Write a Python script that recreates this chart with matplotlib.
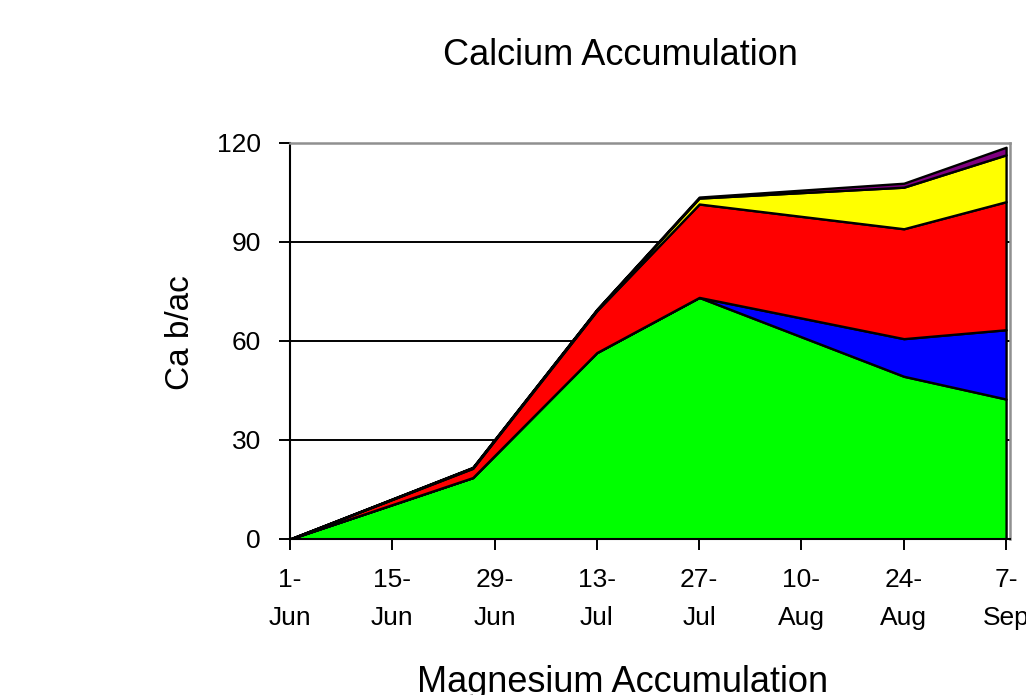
import matplotlib
matplotlib.use('Agg')
import matplotlib.pyplot as plt
import matplotlib.dates as mdates
import pandas as pd

plt.rcParams['font.family'] = ['Liberation Sans', 'DejaVu Sans']

# sample dates and stacked Ca accumulation (lb/ac), bottom to top
dates = pd.to_datetime(['2003-06-01', '2003-06-26', '2003-07-13',
                        '2003-07-27', '2003-08-24', '2003-09-07'])
green = [0, 18.6, 56.5, 73.2, 49.3, 42.4]
blue = [0, 0, 0, 0, 11.4, 21.0]
red = [0, 2.8, 12.7, 28.3, 33.3, 38.8]
yellow = [0, 0.2, 0.3, 1.8, 12.6, 14.2]
purple = [0, 0.1, 0.1, 0.3, 1.2, 2.3]

tick_dates = pd.to_datetime(['2003-06-01', '2003-06-15', '2003-06-29', '2003-07-13',
                             '2003-07-27', '2003-08-10', '2003-08-24', '2003-09-07'])
tick_labels = ['1-\nJun', '15-\nJun', '29-\nJun', '13-\nJul',
               '27-\nJul', '10-\nAug', '24-\nAug', '7-\nSep']
y_ticks = [0, 30, 60, 90, 120]

fig = plt.figure(figsize=(10.26, 6.95), dpi=100)
ax = fig.add_axes([0.2827, 0.2245, 0.7018, 0.5698])

ax.stackplot(dates, green, blue, red, yellow, purple,
             colors=['#00ff00', '#0000ff', '#ff0000', '#ffff00', '#800080'],
             edgecolor='black', linewidth=1.7, zorder=3)

for y in y_ticks[1:-1]:
    ax.axhline(y, color='black', linewidth=1.4, zorder=1)

ax.set_ylim(0, 120)
ax.set_xlim(mdates.date2num(dates[0]), mdates.date2num(dates[-1]) + 0.55)
ax.set_yticks(y_ticks)
ax.set_xticks(tick_dates)
ax.set_xticklabels(tick_labels, linespacing=1.75)

ax.tick_params(axis='y', direction='out', length=8, width=1.4, pad=13, labelsize=19)
ax.tick_params(axis='x', direction='out', length=8, width=1.4, pad=13, labelsize=19)

ax.spines['left'].set_color('black')
ax.spines['bottom'].set_color('black')
ax.spines['left'].set_linewidth(1.5)
ax.spines['bottom'].set_linewidth(1.5)
ax.spines['top'].set_color('#909090')
ax.spines['right'].set_color('#909090')
ax.spines['top'].set_linewidth(1.8)
ax.spines['right'].set_linewidth(1.8)
for sp in ax.spines.values():
    sp.set_zorder(4)

fig.text(0.605, 0.9065, 'Calcium Accumulation', fontsize=26, ha='center', va='baseline')
fig.text(0.607, 0.0043, 'Magnesium Accumulation', fontsize=26, ha='center', va='baseline')
fig.text(0.1764, 0.521, 'Ca b/ac', fontsize=24, rotation=90, ha='center', va='center')

fig.savefig('out.png', dpi=100)
